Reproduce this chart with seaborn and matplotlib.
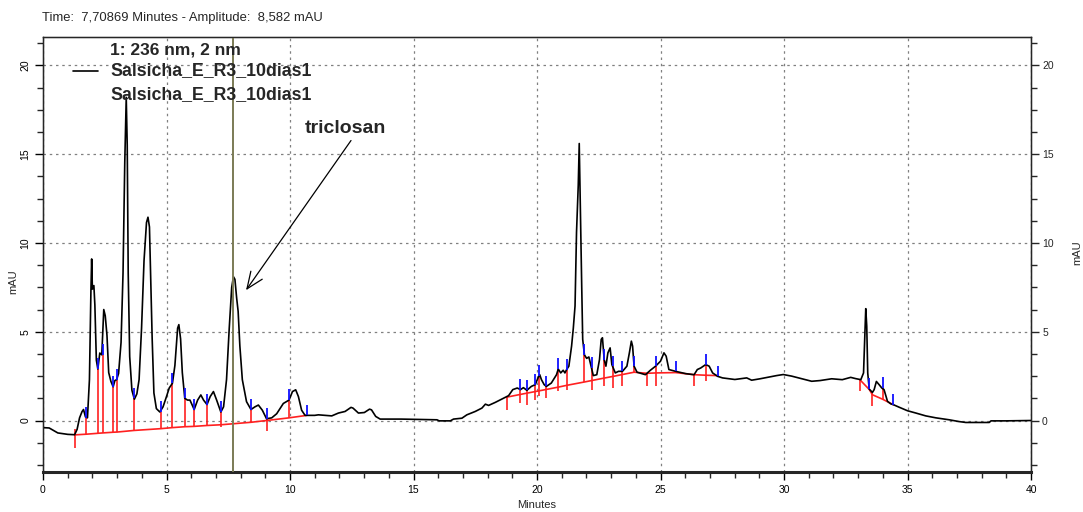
import matplotlib
matplotlib.use("Agg")
import matplotlib.pyplot as plt
from matplotlib.ticker import MultipleLocator
import pandas as pd
import seaborn as sns

# chromatogram trace (minutes, mAU)
time_min = [0.00, 0.25, 0.60, 1.00, 1.28, 1.38, 1.48, 1.58, 1.64, 1.72, 1.80, 1.88, 1.94, 1.97,
            2.00, 2.06, 2.10, 2.16, 2.22, 2.30, 2.38, 2.46, 2.52, 2.59, 2.66, 2.75, 2.84, 2.91,
            2.98, 3.06, 3.16, 3.24, 3.31, 3.37, 3.41, 3.45, 3.51, 3.60, 3.70, 3.80, 3.89, 3.99,
            4.09, 4.19, 4.25, 4.31, 4.36, 4.42, 4.49, 4.59, 4.73, 4.86, 5.00, 5.11, 5.24, 5.34,
            5.45, 5.50, 5.57, 5.64, 5.74, 5.85, 5.95, 6.12, 6.26, 6.39, 6.50, 6.64, 6.77, 6.90,
            7.03, 7.20, 7.31, 7.43, 7.54, 7.64, 7.71, 7.77, 7.84, 7.90, 7.97, 8.07, 8.24, 8.42,
            8.58, 8.72, 8.88, 9.05, 9.26, 9.46, 9.73, 9.96, 10.10, 10.23, 10.34, 10.47, 10.61,
            11.00, 11.15, 11.69, 11.96, 12.23, 12.47, 12.55, 12.77, 13.01, 13.22, 13.30, 13.47,
            13.65, 14.50, 15.95, 16.04, 16.49, 16.62, 16.96, 17.16, 17.50, 17.77, 17.91, 18.04,
            18.31, 18.65, 18.85, 19.02, 19.20, 19.33, 19.45, 19.59, 19.77, 19.93, 20.04, 20.11,
            20.18, 20.29, 20.38, 20.58, 20.79, 20.86, 20.96, 21.06, 21.13, 21.20, 21.29, 21.40,
            21.47, 21.54, 21.60, 21.67, 21.71, 21.75, 21.81, 21.85, 21.92, 22.01, 22.10, 22.19,
            22.28, 22.42, 22.53, 22.60, 22.65, 22.72, 22.79, 22.87, 22.96, 23.03, 23.17, 23.30,
            23.46, 23.64, 23.74, 23.82, 23.87, 23.93, 24.05, 24.39, 24.59, 24.80, 25.00, 25.14,
            25.23, 25.34, 25.61, 26.02, 26.36, 26.49, 26.63, 26.83, 26.97, 27.11, 27.31, 27.51,
            28.01, 28.49, 28.69, 29.03, 29.70, 29.97, 30.31, 30.72, 31.12, 31.46, 31.93, 32.36,
            32.70, 32.90, 33.11, 33.22, 33.26, 33.31, 33.35, 33.39, 33.45, 33.58, 33.65, 33.74,
            33.85, 33.96, 34.05, 34.19, 34.32, 34.43, 34.66, 35.00, 35.34, 35.74, 36.15, 36.69,
            37.09, 37.36, 38.31, 38.38, 38.99, 40.00]
signal_mau = [-0.40, -0.42, -0.70, -0.78, -0.80, -0.50, 0.15, 0.50, 0.62, 0.20, 0.15, 2.30, 7.30, 9.10,
              7.40, 7.60, 6.50, 3.40, 2.90, 3.80, 3.70, 6.25, 5.90, 4.80, 2.70, 2.20, 1.90, 2.25,
              2.30, 2.65, 4.40, 8.30, 14.50, 18.20, 15.50, 8.30, 3.60, 1.70, 1.20, 1.50, 2.30, 5.20,
              9.00, 11.15, 11.45, 10.90, 8.10, 4.60, 1.55, 0.67, 0.48, 0.77, 1.35, 1.83, 2.10, 3.10,
              5.20, 5.40, 4.60, 2.70, 1.25, 1.15, 1.15, 0.62, 1.15, 1.44, 1.15, 0.90, 1.35, 1.63,
              1.15, 0.48, 0.77, 2.30, 5.20, 7.50, 8.10, 7.95, 6.90, 6.15, 4.20, 2.30, 1.06, 0.62,
              0.77, 0.87, 0.58, 0.10, 0.15, 0.38, 0.96, 1.15, 1.63, 1.73, 1.35, 0.58, 0.29,
              0.29, 0.32, 0.26, 0.42, 0.51, 0.74, 0.70, 0.42, 0.45, 0.64, 0.60, 0.23,
              0.08, 0.08, 0.04, -0.02, -0.02, 0.08, 0.13, 0.32, 0.51, 0.70, 0.92, 0.85,
              1.02, 1.26, 1.40, 1.74, 1.83, 1.74, 1.85, 1.70, 1.92, 2.02, 2.40, 2.58,
              2.30, 2.02, 1.92, 2.11, 2.58, 2.90, 2.68, 2.83, 2.68, 2.87, 3.06, 4.19,
              5.20, 6.45, 10.60, 13.25, 15.60, 12.30, 7.60, 4.57, 3.70, 3.50, 3.58, 3.06,
              2.53, 2.58, 3.43, 4.57, 4.66, 3.43, 3.06, 3.81, 4.09, 3.15, 2.68, 2.77,
              2.77, 3.06, 3.81, 4.47, 4.19, 3.06, 2.72, 2.58, 2.83, 3.06, 3.34, 3.81,
              3.62, 2.87, 2.77, 2.64, 2.58, 2.87, 2.96, 3.15, 3.06, 2.68, 2.49, 2.40,
              2.31, 2.40, 2.27, 2.35, 2.53, 2.59, 2.50, 2.35, 2.21, 2.25, 2.35, 2.30,
              2.43, 2.36, 2.30, 2.68, 4.28, 6.30, 5.32, 2.68, 1.77, 1.58, 1.74, 2.20,
              2.02, 1.83, 1.74, 1.08, 0.94, 0.89, 0.75, 0.55, 0.42, 0.26, 0.15, 0.04,
              -0.06, -0.11, -0.11, -0.02, -0.02, 0.00]

# integration marks, group 1 (1-11 min)
g1_t = [1.28, 1.76, 2.22, 2.41, 2.84, 3.00, 3.68, 4.76, 5.24, 5.74, 6.12, 6.64, 7.20, 8.42, 9.05, 9.96, 10.68]
g1_top = [-0.48, 0.15, 2.90, 3.70, 1.90, 2.30, 1.25, 0.48, 2.10, 1.25, 0.62, 0.90, 0.48, 0.62, 0.10, 1.15, 0.29]
g1_base = [-0.81, -0.77, -0.72, -0.70, -0.66, -0.65, -0.56, -0.46, -0.40, -0.35, -0.33, -0.28, -0.24, -0.10, 0.00, 0.15, 0.29]
g1_low = [-1.54, -0.77, -0.72, -0.70, -0.66, -0.65, -0.56, -0.46, -0.40, -0.35, -0.33, -0.28, -0.36, -0.10, -0.58, 0.15, 0.29]
g1_blue = [0, 1, 1, 1, 1, 1, 1, 1, 1, 1, 1, 1, 1, 1, 1, 1, 1]

# group 2 (18.8-27.3 min)
g2_t = [18.79, 19.33, 19.59, 19.93, 20.08, 20.38, 20.86, 21.20, 21.92, 22.21, 22.72, 23.06, 23.46, 23.93,
        24.46, 24.82, 25.61, 26.36, 26.83, 27.31]
g2_top = [1.36, 1.74, 1.70, 2.02, 2.50, 1.92, 2.90, 2.87, 3.70, 2.95, 3.43, 3.05, 2.77, 3.06,
          2.67, 3.06, 2.77, 2.58, 3.15, 2.49]
g2_base = [1.32, 1.47, 1.54, 1.63, 1.67, 1.75, 1.88, 1.98, 2.17, 2.25, 2.39, 2.48, 2.59, 2.72,
           2.66, 2.68, 2.70, 2.58, 2.55, 2.53]
g2_low = [0.60, 0.98, 0.90, 1.17, 1.36, 1.26, 1.64, 1.74, 2.17, 1.74, 1.92, 1.83, 1.92, 2.72,
          1.92, 1.92, 2.70, 1.92, 2.20, 2.53]
g2_blue = [0, 1, 1, 1, 1, 1, 1, 1, 1, 1, 1, 1, 1, 1, 0, 1, 1, 0, 1, 1]

# group 3 (33-34.5 min)
g3_t = [33.07, 33.45, 33.58, 33.99, 34.43]
g3_top = [2.30, 1.77, 1.58, 1.83, 0.89]
g3_base = [2.30, 1.75, 1.45, 1.20, 0.89]
g3_low = [1.64, 1.75, 0.79, 1.20, 0.89]
g3_blue = [0, 1, 0, 1, 1]

cursor_time = 7.70869
header = "Time:  7,70869 Minutes - Amplitude:  8,582 mAU"
legend_lines = ["1: 236 nm, 2 nm", "Salsicha_E_R3_10dias1", "Salsicha_E_R3_10dias1"]

sns.set_style("ticks")
plt.rcParams['font.family'] = ['Liberation Sans', 'DejaVu Sans']

fig = plt.figure(figsize=(10.83, 5.12), dpi=100)
ax = fig.add_axes([43 / 1083, 40 / 512, 988 / 1083, 435 / 512])

df = pd.DataFrame({'Minutes': time_min, 'mAU': signal_mau})
sns.lineplot(data=df, x='Minutes', y='mAU', ax=ax, color='black', linewidth=1.2,
             estimator=None, sort=False, legend=False, zorder=3)

# baselines, drop lines and peak-end ticks
red = '#ff2020'
blue = '#1010ff'
for gt, gtop, gbase, glow, gblue in [(g1_t, g1_top, g1_base, g1_low, g1_blue),
                                     (g2_t, g2_top, g2_base, g2_low, g2_blue),
                                     (g3_t, g3_top, g3_base, g3_low, g3_blue)]:
    ax.plot(gt, gbase, color=red, lw=1.2, zorder=2)
    ax.vlines(gt, glow, gtop, color=red, lw=1.2, zorder=2)
    bt = [t for t, b in zip(gt, gblue) if b]
    btop = [v for v, b in zip(gtop, gblue) if b]
    ax.vlines(bt, btop, [v + 0.6 for v in btop], color=blue, lw=1.3, zorder=4)

ax.axvline(cursor_time, color='#7b7b55', lw=1.4, zorder=5)

ax.set_xlim(0, 40)
ax.set_ylim(-2.9, 21.6)
ax.set_xlabel('')
ax.set_ylabel('')
ax.xaxis.set_major_locator(MultipleLocator(5))
ax.xaxis.set_minor_locator(MultipleLocator(1))
ax.yaxis.set_major_locator(MultipleLocator(5))
ax.yaxis.set_minor_locator(MultipleLocator(1.25))
ax.grid(True, which='major', color='#808080', linestyle=(0, (2, 3)), linewidth=0.9)
ax.tick_params(which='major', length=6, width=1, direction='out', labelsize=7.5, colors='black')
ax.tick_params(which='minor', length=4, width=1, direction='out')
ax.tick_params(axis='y', labelrotation=90, pad=3)
for lab in ax.get_yticklabels():
    lab.set_va('center')
for side in ['left', 'right', 'top']:
    ax.spines[side].set_linewidth(1)
    ax.spines[side].set_color('black')
ax.spines['bottom'].set_linewidth(2.2)

ax2 = ax.twinx()
ax2.set_ylim(ax.get_ylim())
ax2.yaxis.set_major_locator(MultipleLocator(5))
ax2.yaxis.set_minor_locator(MultipleLocator(1.25))
ax2.tick_params(which='major', length=6, width=1, direction='out', labelsize=7.5, pad=2)
ax2.tick_params(which='minor', length=4, width=1, direction='out')
ax2.grid(False)

# legend block drawn as text
ax.plot([0.030, 0.056], [0.922, 0.922], color='black', lw=1.2, transform=ax.transAxes)
ax.text(0.068, 0.970, legend_lines[0], transform=ax.transAxes, fontsize=12.5,
        fontweight='bold', va='center', zorder=6)
for text, y in zip(legend_lines[1:], [0.922, 0.867]):
    ax.text(0.068, y, text, transform=ax.transAxes, fontsize=12.8, fontweight='bold', va='center', zorder=6)

ax.annotate('', xy=(8.22, 7.34), xytext=(12.47, 15.77),
            arrowprops=dict(arrowstyle='->,head_length=0.6,head_width=0.25', color='black', lw=0.9,
                            shrinkA=0, shrinkB=0, mutation_scale=20))
ax.text(10.6, 16.45, 'triclosan', fontsize=14, fontweight='bold', va='center')

fig.text(42 / 1083, 1 - 18 / 512, header, fontsize=9.4, va='center')
fig.text(537 / 1083, 1 - 505 / 512, 'Minutes', fontsize=8, ha='center', va='center')
fig.text(13 / 1083, 1 - 282 / 512, 'mAU', fontsize=8, rotation=90, ha='center', va='center')
fig.text(1077 / 1083, 1 - 253 / 512, 'mAU', fontsize=8, rotation=90, ha='center', va='center')

fig.savefig('out.png', dpi=100)
